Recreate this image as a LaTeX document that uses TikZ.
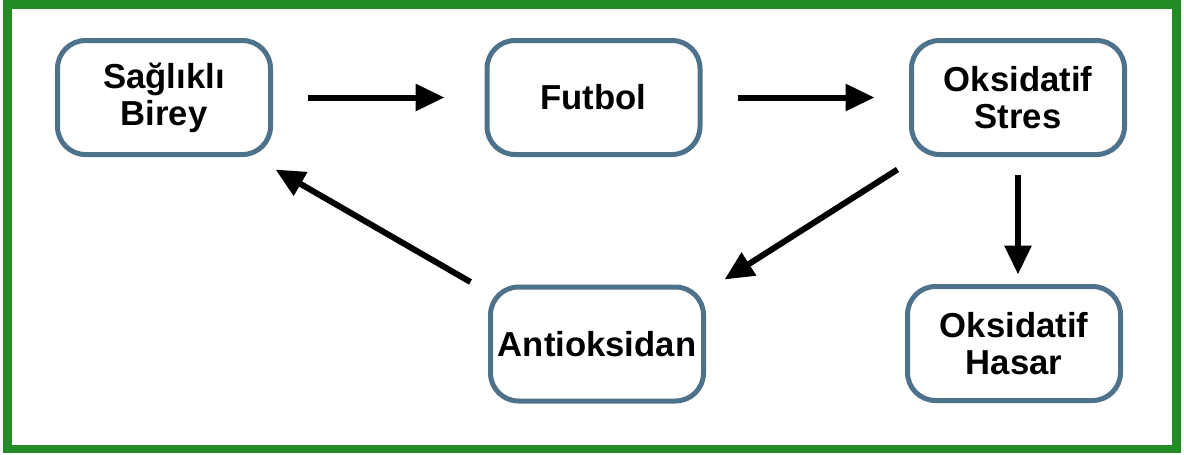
\documentclass[tikz,border=0pt]{standalone}
\usepackage{fontspec}
\setmainfont{Liberation Sans}
\usetikzlibrary{arrows.meta}
\definecolor{boxblue}{RGB}{78,114,140}
\definecolor{frame}{RGB}{36,140,36}
\begin{document}
\begin{tikzpicture}[x=0.75pt,y=-0.75pt,
  box/.style={draw=boxblue, line width=3.75pt, rounded corners=21pt, fill=white,
    minimum width=159.75pt, minimum height=85.5pt, align=center,
    font=\fontsize{26pt}{27.75pt}\selectfont\bfseries, text=black, inner sep=0pt},
  arr/.style={line width=4.5pt, -{Triangle[length=21.75pt,width=19.5pt]}}]
\useasboundingbox (0,0) rectangle (1184,454);
\fill[white] (0,0) rectangle (1184,454);
\draw[frame, line width=6.5pt] (7.5,4.5) rectangle (1176.5,449);
\node[box] (b) at (164,97.5) {Sağlıklı\\Birey};
\node[box] (f) at (593.5,97.5) {Futbol};
\node[box] (s) at (1018,97.5) {Oksidatif\\Stres};
\node[box] (a) at (597,344) {Antioksidan};
\node[box] (h) at (1014,343.5) {Oksidatif\\Hasar};
\draw[arr] ([shift={(34.5,0)}]b.east) -- ([shift={(-40,0)}]f.west);
\draw[arr] ([shift={(35,0)}]f.east) -- ([shift={(-34.5,0)}]s.west);
\draw[arr] ([shift={(0,17.5)}]s.south) -- ([shift={(0,-9.5)}]s.south |- h.north);
\draw[arr] ([shift={(-11.5,12.5)}]s.south west) -- ([shift={(18.5,-5)}]a.north east);
\draw[arr] ([shift={(-17.5,-2.5)}]a.north west) -- ([shift={(2.5,12.5)}]b.south east);
\end{tikzpicture}
\end{document}
